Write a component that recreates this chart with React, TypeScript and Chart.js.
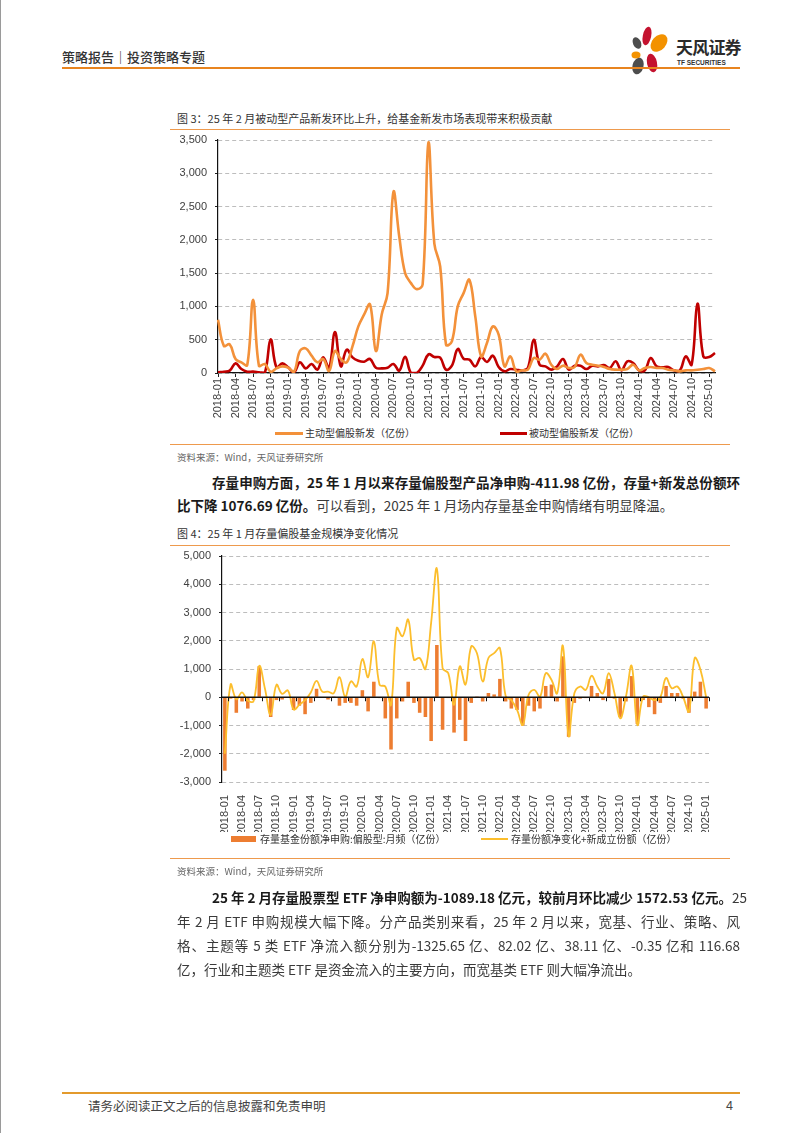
import React, { useEffect, useRef } from 'react';
import { Chart, registerables } from 'chart.js';

Chart.register(...registerables);

// ---------- categories ----------
const YEARS = ['2018', '2019', '2020', '2021', '2022', '2023', '2024', '2025'];
const MONTHS = ['01', '02', '03', '04', '05', '06', '07', '08', '09', '10', '11', '12'];
const ALL_MONTHS = YEARS.flatMap((y) => MONTHS.map((m) => `${y}-${m}`));
const labels1 = ALL_MONTHS.slice(0, 86); // 2018-01 .. 2025-02
const labels2 = ALL_MONTHS.slice(0, 85); // 2018-01 .. 2025-01

// ---------- figure 3 data (亿份) ----------
const activeNew = [
  800, 408, 430, 210, 160, 120, 1100, 110, 135, 20,
  70, 100, 80, 20, 330, 370, 260, 160, 210, 30,
  330, 210, 160, 400, 700, 880, 1030, 330, 880, 1200,
  2720, 2050, 1500, 1350, 1260, 1330, 3465, 1945, 1600, 425,
  475, 1000, 1200, 1400, 850, 250, 450, 700, 575, 100,
  250, 25, 40, 50, 225, 200, 290, 125, 60, 110,
  75, 90, 275, 150, 125, 110, 90, 60, 50, 50,
  60, 125, 40, 75, 90, 75, 75, 50, 40, 25,
  40, 40, 50, 60, 75, 25,
];
const passiveNew = [
  10, 20, 35, 145, 60, 20, 20, 10, 0, 505,
  85, 145, 85, 10, 160, 70, 135, 50, 235, 70,
  615, 100, 350, 235, 185, 170, 210, 80, 70, 80,
  135, 35, 245, 0, 0, 110, 280, 240, 230, 50,
  110, 360, 215, 200, 100, 240, 165, 260, 90, 25,
  60, 50, 40, 75, 500, 125, 100, 50, 100, 210,
  50, 110, 110, 60, 110, 100, 120, 75, 175, 40,
  175, 150, 40, 40, 225, 100, 85, 90, 40, 40,
  250, 125, 1040, 250, 240, 300,
];

// ---------- figure 4 data (亿份) ----------
const netSubscription = [
  -2600, -50, -550, -150, -400, -100, 1100, -30, -700, -100,
  -80, -20, -450, -300, -600, -200, 300, -20, -80, 30,
  -300, -200, -200, -300, 250, -500, 550, -30, -750, -1850,
  -750, -150, 550, -200, -550, -700, -1550, 1850, -1150, -30,
  -1250, -800, -1550, -200, 30, -150, 150, 100, 650, -150,
  -400, -450, -1000, -300, -500, -400, 400, 450, -150, 1450,
  -1400, -200, -50, -30, 400, 150, -100, 650, -50, -700,
  -150, 750, -950, -100, -350, -600, -200, 400, 150, 150,
  -50, -550, 200, 550, -400,
];
const netChangePlusNew = [
  -2000, 450, -70, 170, -120, -140, 1110, 300, -630, 440,
  120, 240, -430, -270, -100, 170, 580, 200, 200, 140,
  710, 20, 560, 380, 1350, 710, 1980, 440, 380, -270,
  2450, 2160, 2750, 1330, 1390, 1000, 2630, 4550, 1030, 850,
  -270, 1090, 450, 1800, 1560, 560, 1390, 1560, 1740, 50,
  -100, -450, -980, 80, 260, 20, 850, 620, 140, 1820,
  -1370, 140, 380, 260, 760, 380, 140, 850, 140, -750,
  20, 1110, -980, 20, 0, -100, 0, 680, 320, 380,
  0, -500, 1390, 980, 0,
];

const SERIES1_NAMES = ['主动型偏股新发（亿份）', '被动型偏股新发（亿份）'];
const SERIES2_NAMES = ['存量基金份额净申购:偏股型:月频（亿份）', '存量份额净变化+新成立份额（亿份）'];

const ORANGE = '#F3913A';
const RED = '#C00000';
const BAR_ORANGE = '#ED7D31';
const YELLOW = '#FCBE2C';
const LINE_ORANGE = '#EE9A4D';

const TICK_FONT = { family: '"Liberation Sans", Arial, sans-serif', size: 11 };
const fmt = (v: number) => Number(v).toLocaleString('en-US');

function Chart1() {
  const ref = useRef<HTMLCanvasElement | null>(null);
  useEffect(() => {
    if (!ref.current) return;
    const chart = new Chart(ref.current, {
      type: 'line',
      data: {
        labels: labels1,
        datasets: [
          {
            label: SERIES1_NAMES[0],
            data: activeNew,
            borderColor: ORANGE,
            borderWidth: 2.6,
            pointRadius: 0,
            tension: 0.4,
            fill: false,
          },
          {
            label: SERIES1_NAMES[1],
            data: passiveNew,
            borderColor: RED,
            borderWidth: 2.6,
            pointRadius: 0,
            tension: 0.4,
            fill: false,
          },
        ],
      },
      options: {
        responsive: false,
        animation: false,
        devicePixelRatio: 1,
        layout: { padding: { top: 8, right: 15, left: 0, bottom: 0 } },
        plugins: { legend: { display: false }, tooltip: { enabled: false } },
        scales: {
          x: {
            type: 'category',
            offset: false,
            grid: {
              offset: false,
              drawOnChartArea: false,
              drawTicks: true,
              tickLength: 4,
              color: 'rgba(0,0,0,0)',
              tickColor: (ctx: any) => (ctx.index % 3 === 0 ? '#222' : 'rgba(0,0,0,0)'),
            },
            border: { display: true, color: '#111', width: 1.2 },
            ticks: {
              autoSkip: false,
              maxRotation: 90,
              minRotation: 90,
              padding: 1,
              color: '#404040',
              font: TICK_FONT,
              callback: (_v: any, i: number) => (i % 3 === 0 ? labels1[i] : ''),
            },
            afterFit: (scale: any) => {
              scale.height = 50;
            },
          },
          y: {
            min: 0,
            max: 3500,
            ticks: {
              stepSize: 500,
              padding: 8,
              color: '#404040',
              font: TICK_FONT,
              callback: (v: any) => fmt(v),
            },
            grid: {
              color: '#BDBDBD',
              lineWidth: 1,
              drawTicks: true,
              tickLength: 3,
              tickColor: '#222',
            },
            border: { display: true, color: '#111', width: 1.2, dash: [4, 3] },
            afterFit: (scale: any) => {
              scale.width = 48;
              scale.paddingTop = 0;
              scale.paddingBottom = 0;
            },
          },
        },
      },
    });
    return () => chart.destroy();
  }, []);
  return <canvas ref={ref} width={560} height={291} style={{ position: 'absolute', left: 170, top: 132, width: 560, height: 291 }} />;
}

const zeroLinePlugin = {
  id: 'zeroLineTicks',
  afterDatasetsDraw(chart: any) {
    const { ctx, scales, chartArea } = chart;
    const x = scales.x;
    const y = scales.y;
    const y0 = y.getPixelForValue(0);
    ctx.save();
    ctx.strokeStyle = '#111';
    ctx.lineWidth = 1.3;
    ctx.beginPath();
    ctx.moveTo(chartArea.left, y0);
    ctx.lineTo(chartArea.right, y0);
    ctx.stroke();
    ctx.lineWidth = 1;
    const n = chart.data.labels.length;
    const step = n > 1 ? x.getPixelForValue(1) - x.getPixelForValue(0) : 0;
    ctx.beginPath();
    for (let i = 0; i < n; i += 3) {
      const px = Math.round(x.getPixelForValue(i) + step / 2) + 0.5;
      ctx.moveTo(px, y0);
      ctx.lineTo(px, y0 + 4);
    }
    ctx.stroke();
    ctx.restore();
  },
};

function Chart2() {
  const ref = useRef<HTMLCanvasElement | null>(null);
  useEffect(() => {
    if (!ref.current) return;
    const chart = new Chart(ref.current, {
      type: 'bar',
      data: {
        labels: labels2,
        datasets: [
          {
            type: 'line',
            label: SERIES2_NAMES[1],
            data: netChangePlusNew,
            borderColor: YELLOW,
            borderWidth: 1.8,
            pointRadius: 0,
            tension: 0.4,
            fill: false,
            order: 0,
          } as any,
          {
            type: 'bar',
            label: SERIES2_NAMES[0],
            data: netSubscription,
            backgroundColor: BAR_ORANGE,
            borderWidth: 0,
            barPercentage: 0.62,
            categoryPercentage: 1,
            order: 1,
          },
        ],
      },
      options: {
        responsive: false,
        animation: false,
        devicePixelRatio: 1,
        layout: { padding: { top: 8, right: 21, left: 0, bottom: 0 } },
        plugins: { legend: { display: false }, tooltip: { enabled: false } },
        scales: {
          x: {
            type: 'category',
            offset: true,
            grid: { display: false },
            border: { display: false },
            ticks: {
              autoSkip: false,
              maxRotation: 90,
              minRotation: 90,
              padding: 5,
              color: '#404040',
              font: TICK_FONT,
              callback: (_v: any, i: number) => (i % 3 === 0 ? labels2[i] : ''),
            },
            afterFit: (scale: any) => {
              scale.height = 50;
            },
          },
          y: {
            min: -3000,
            max: 5000,
            ticks: {
              stepSize: 1000,
              padding: 8,
              color: '#404040',
              font: TICK_FONT,
              callback: (v: any) => fmt(v),
            },
            grid: {
              color: (ctx: any) => (ctx.tick && ctx.tick.value === 0 ? 'rgba(0,0,0,0)' : '#BDBDBD'),
              lineWidth: 1,
              drawTicks: true,
              tickLength: 3,
              tickColor: '#222',
            },
            border: { display: true, color: '#111', width: 1.2, dash: [4, 3] },
            afterFit: (scale: any) => {
              scale.width = 52;
              scale.paddingTop = 0;
              scale.paddingBottom = 0;
            },
          },
        },
      },
      plugins: [zeroLinePlugin],
    });
    return () => chart.destroy();
  }, []);
  return <canvas ref={ref} width={560} height={284} style={{ position: 'absolute', left: 170, top: 548, width: 560, height: 284 }} />;
}

const CJK = '"Noto Sans CJK SC", "Noto Sans", sans-serif';

const abs = (left: number, top: number, extra: React.CSSProperties = {}): React.CSSProperties => ({
  position: 'absolute',
  left,
  top,
  whiteSpace: 'nowrap',
  ...extra,
});

function TextLine(props: { left: number; center: number; width?: number; justify?: boolean; children: React.ReactNode }) {
  const { left, center, width, justify, children } = props;
  return (
    <div
      style={abs(left, center - 12, {
        height: 24,
        lineHeight: '24px',
        fontSize: 13.5,
        fontFamily: CJK,
        color: '#3a3a3a',
        width: width,
        textAlign: justify ? 'justify' : 'left',
        textAlignLast: justify ? 'justify' : 'auto',
        whiteSpace: 'nowrap',
      } as React.CSSProperties)}
    >
      {children}
    </div>
  );
}

const B = (p: { children: React.ReactNode }) => <span style={{ fontWeight: 700, color: '#1a1a1a' }}>{p.children}</span>;

function Legend(props: { top: number; items: { left: number; swatchW: number; swatchH: number; color: string; textLeft: number; text: string }[] }) {
  return (
    <>
      {props.items.map((it, i) => (
        <React.Fragment key={i}>
          <div style={abs(it.left, props.top - it.swatchH / 2, { width: it.swatchW, height: it.swatchH, background: it.color })} />
          <div style={abs(it.textLeft, props.top - 8, { height: 16, lineHeight: '16px', fontSize: 10, fontFamily: CJK, color: '#333' })}>{it.text}</div>
        </React.Fragment>
      ))}
    </>
  );
}

function Logo() {
  return (
    <>
      <svg style={{ position: 'absolute', left: 626, top: 22, width: 46, height: 54 }} viewBox="0 0 46 54">
        <ellipse cx="21" cy="14" rx="4.2" ry="9.5" fill="#C4122F" transform="rotate(12 21 14)" />
        <ellipse cx="33" cy="21" rx="7" ry="10" fill="#F39200" transform="rotate(42 33 21)" />
        <ellipse cx="11" cy="21" rx="4" ry="6" fill="#4D4D4D" transform="rotate(-25 11 21)" />
        <ellipse cx="10" cy="33" rx="4.5" ry="3.5" fill="#F39200" />
        <ellipse cx="12" cy="44" rx="5.5" ry="8.5" fill="#4D4D4D" transform="rotate(15 12 44)" />
        <ellipse cx="26" cy="41" rx="5" ry="9.5" fill="#C4122F" transform="rotate(-12 26 41)" />
      </svg>
      <div style={abs(676, 36, { fontSize: 17, lineHeight: '22px', fontWeight: 700, fontFamily: CJK, color: '#2b2b2b', letterSpacing: -0.8 })}>天风证券</div>
      <div style={abs(677, 59, { fontSize: 6.5, lineHeight: '8px', fontWeight: 700, fontFamily: '"Liberation Sans", Arial, sans-serif', color: '#333' })}>TF SECURITIES</div>
    </>
  );
}

export default function App() {
  const rule = (left: number, top: number, width: number, h: number, color: string) => (
    <div style={abs(left, top, { width, height: h, background: color })} />
  );
  return (
    <div
      style={{
        position: 'absolute',
        left: 0,
        top: 0,
        width: 802,
        height: 1133,
        background: '#fff',
        overflow: 'hidden',
        fontFamily: CJK,
      }}
    >
      {/* page border */}
      <div style={abs(0, 0, { width: 1, height: 1133, background: '#9a9a9a' })} />

      {/* header */}
      <div style={abs(62, 48, { fontSize: 13, lineHeight: '18px', color: '#333', fontFamily: CJK, fontWeight: 500 })}>策略报告｜投资策略专题</div>
      <Logo />
      {rule(62, 67, 678, 2, '#E8841F')}

      {/* figure 3 */}
      <div style={abs(177, 110, { fontSize: 11, lineHeight: '16px', color: '#333', fontFamily: CJK })}>
        图 3：25 年 2 月被动型产品新发环比上升，给基金新发市场表现带来积极贡献
      </div>
      {rule(170, 129, 560, 1, LINE_ORANGE)}
      <Chart1 />
      <Legend
        top={433}
        items={[
          { left: 275, swatchW: 28, swatchH: 3, color: ORANGE, textLeft: 305, text: SERIES1_NAMES[0] },
          { left: 500, swatchW: 27, swatchH: 3, color: RED, textLeft: 529, text: SERIES1_NAMES[1] },
        ]}
      />
      {rule(170, 444, 560, 1, LINE_ORANGE)}
      <div style={abs(177, 450, { fontSize: 9.5, lineHeight: '14px', color: '#666', fontFamily: CJK })}>资料来源：Wind，天风证券研究所</div>

      {/* paragraph 1 */}
      <TextLine left={212} center={482} width={528} justify>
        <B>存量申购方面，25 年 1 月以来存量偏股型产品净申购-411.98 亿份，存量+新发总份额环</B>
      </TextLine>
      <TextLine left={177} center={505}>
        <B>比下降 1076.69 亿份。</B>可以看到，2025 年 1 月场内存量基金申购情绪有明显降温。
      </TextLine>

      {/* figure 4 */}
      <div style={abs(177, 525, { fontSize: 11, lineHeight: '16px', color: '#333', fontFamily: CJK })}>
        图 4：25 年 1 月存量偏股基金规模净变化情况
      </div>
      {rule(170, 545, 560, 1, LINE_ORANGE)}
      <Chart2 />
      <Legend
        top={839}
        items={[
          { left: 231, swatchW: 25, swatchH: 6, color: BAR_ORANGE, textLeft: 260, text: SERIES2_NAMES[0] },
          { left: 481, swatchW: 27, swatchH: 2, color: YELLOW, textLeft: 511, text: SERIES2_NAMES[1] },
        ]}
      />
      {rule(170, 858, 560, 1, LINE_ORANGE)}
      <div style={abs(177, 864, { fontSize: 9.5, lineHeight: '14px', color: '#666', fontFamily: CJK })}>资料来源：Wind，天风证券研究所</div>

      {/* paragraph 2 */}
      <TextLine left={212} center={897} width={528} justify>
        <B>25 年 2 月存量股票型 ETF 净申购额为-1089.18 亿元，较前月环比减少 1572.53 亿元。</B>25
      </TextLine>
      <TextLine left={177} center={921} width={563} justify>
        年 2 月 ETF 申购规模大幅下降。分产品类别来看，25 年 2 月以来，宽基、行业、策略、风
      </TextLine>
      <TextLine left={177} center={945} width={563} justify>
        格、主题等 5 类 ETF 净流入额分别为-1325.65 亿、82.02 亿、38.11 亿、-0.35 亿和 116.68
      </TextLine>
      <TextLine left={177} center={969}>
        亿，行业和主题类 ETF 是资金流入的主要方向，而宽基类 ETF 则大幅净流出。
      </TextLine>

      {/* footer */}
      {rule(62, 1092, 678, 2, '#E39A2C')}
      <div style={abs(88, 1097, { fontSize: 12.5, lineHeight: '18px', color: '#444', fontFamily: CJK })}>请务必阅读正文之后的信息披露和免责申明</div>
      <div style={abs(726, 1097, { fontSize: 12.5, lineHeight: '18px', color: '#444', fontFamily: '"Liberation Sans", Arial, sans-serif' })}>4</div>
    </div>
  );
}
